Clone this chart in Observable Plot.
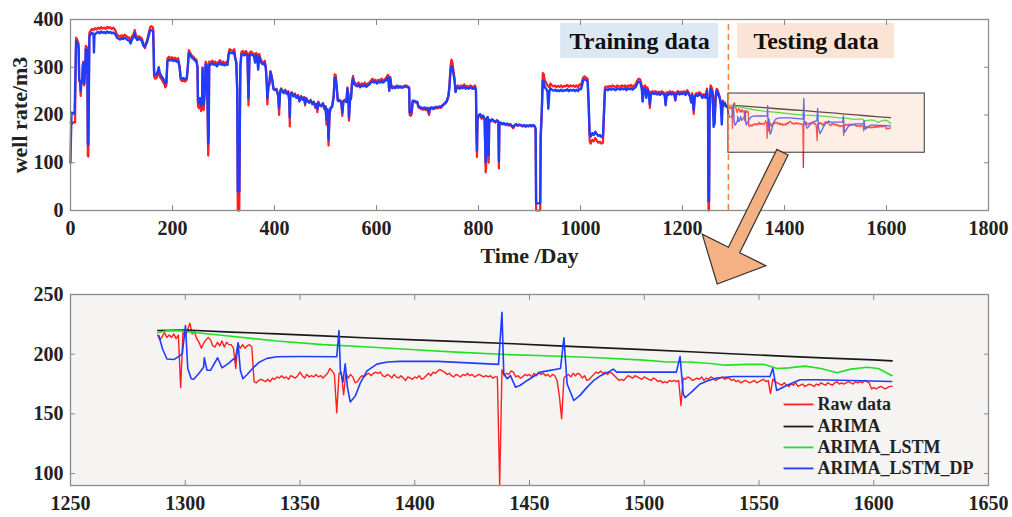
<!DOCTYPE html>
<html>
<head>
<meta charset="utf-8">
<script src="https://cdn.jsdelivr.net/npm/d3@7"></script>
<script src="https://cdn.jsdelivr.net/npm/@observablehq/plot@0.6"></script>
<style>
  body { margin: 0; background: #fff; }
  #wrap { position: relative; width: 1012px; height: 517px; overflow: hidden; }
  #top, #bottom { position: absolute; left: 0; }
  #top { top: 0; }
  #bottom { top: 280px; }
  #arrow { position: absolute; left: 0; top: 0; pointer-events: none; }
</style>
</head>
<body>
<div id="wrap">
  <div id="top"></div>
  <div id="bottom"></div>
  <svg id="arrow" width="1012" height="517"></svg>
</div>
<script>
// ---------------- DATA ----------------
// Training period: raw well rate (red) and fitted (blue), [day, value]
const rawTrain = [[0,184],[3,182],[6,185],[9,184],[10,300],[11,362],[13,358],[15,352],[16,350],[17,272],[19,266],[20,240],[21,264],[23,268],[24,305],[25,312],[26,265],[27,262],[29,300],[30,345],[32,342],[33,338],[34,115],[35,113],[36,250],[37,372],[39,376],[42,380],[45,378],[48,382],[51,379],[54,383],[57,380],[60,384],[63,381],[66,383],[69,380],[72,385],[75,382],[78,384],[81,380],[84,383],[87,379],[89,375],[91,368],[94,366],[97,364],[100,367],[103,365],[106,368],[109,366],[112,363],[115,362],[118,352],[120,364],[123,368],[126,378],[128,368],[131,362],[134,365],[137,363],[140,360],[143,348],[146,340],[148,352],[150,356],[153,370],[156,383],[158,386],[160,385],[162,383],[163,340],[164,280],[166,276],[169,278],[171,285],[173,296],[175,280],[178,276],[181,270],[184,265],[186,258],[188,262],[190,318],[193,322],[196,319],[199,321],[202,318],[205,320],[208,317],[211,319],[214,300],[216,274],[219,271],[222,273],[225,270],[228,274],[230,300],[232,336],[235,330],[238,324],[241,322],[244,318],[247,316],[249,300],[250,218],[252,214],[254,225],[256,208],[258,222],[259,300],[260,230],[261,210],[263,240],[265,312],[267,308],[269,200],[270,115],[271,150],[272,312],[275,310],[278,314],[281,309],[284,312],[287,306],[290,311],[293,315],[296,309],[299,312],[302,308],[305,311],[308,310],[310,330],[312,338],[315,336],[318,334],[321,338],[323,320],[325,312],[327,250],[328,0],[331,0],[332,160],[333,300],[335,332],[338,334],[341,330],[344,334],[347,328],[349,220],[351,330],[354,333],[357,330],[360,328],[362,312],[364,330],[366,326],[368,305],[370,328],[372,320],[375,312],[378,310],[381,314],[383,300],[385,262],[386,222],[388,258],[390,264],[392,292],[394,284],[396,272],[398,256],[401,254],[404,255],[407,240],[409,200],[411,250],[413,256],[415,252],[418,248],[421,253],[424,246],[427,250],[429,226],[430,176],[431,244],[434,248],[437,240],[440,245],[443,236],[446,242],[449,228],[452,240],[455,233],[458,238],[460,220],[462,236],[465,230],[468,226],[471,232],[474,222],[477,228],[480,215],[483,224],[484,206],[486,228],[489,220],[492,218],[495,225],[498,212],[500,218],[502,180],[504,210],[506,136],[508,200],[510,215],[513,218],[516,240],[518,285],[520,284],[522,260],[524,232],[526,230],[528,232],[531,228],[533,198],[535,230],[538,232],[541,228],[543,258],[545,240],[546,188],[548,232],[550,236],[552,270],[554,282],[556,270],[559,266],[562,264],[565,268],[568,262],[571,266],[574,264],[577,268],[580,263],[583,266],[586,268],[589,272],[592,276],[595,272],[598,274],[601,270],[604,274],[607,272],[610,276],[613,272],[616,275],[619,278],[621,282],[623,284],[625,250],[627,280],[629,262],[631,258],[634,260],[637,258],[640,262],[643,259],[646,261],[649,259],[652,260],[655,261],[658,262],[661,260],[664,258],[665,200],[667,198],[669,202],[671,228],[674,228],[677,226],[680,226],[682,216],[685,214],[688,212],[691,211],[694,213],[697,210],[700,212],[703,200],[705,212],[708,214],[711,212],[714,213],[717,215],[720,214],[723,216],[726,215],[729,218],[732,222],[735,224],[738,228],[741,240],[743,262],[745,300],[747,316],[749,310],[751,292],[753,278],[755,250],[757,260],[760,262],[763,258],[766,262],[769,260],[772,264],[775,259],[778,261],[781,258],[784,262],[787,260],[790,258],[793,262],[795,255],[796,160],[797,112],[798,190],[800,196],[803,200],[806,192],[809,196],[812,188],[814,80],[815,90],[816,190],[818,195],[820,100],[821,188],[824,186],[827,190],[830,186],[833,184],[836,188],[839,186],[840,88],[841,182],[844,183],[847,180],[850,182],[853,179],[856,181],[859,178],[862,180],[865,176],[868,172],[871,178],[874,180],[877,177],[880,179],[883,178],[886,176],[889,178],[892,175],[895,177],[898,176],[901,178],[904,176],[907,178],[910,176],[912,170],[913,0],[921,0],[922,150],[924,200],[926,288],[928,286],[930,272],[932,270],[935,262],[937,260],[939,258],[941,266],[944,262],[947,260],[950,262],[953,258],[956,261],[959,259],[962,262],[965,258],[968,261],[971,260],[974,263],[977,259],[980,262],[983,260],[986,262],[989,259],[992,262],[995,258],[998,264],[1001,262],[1003,270],[1005,278],[1008,281],[1011,278],[1014,276],[1016,220],[1018,145],[1020,140],[1023,148],[1026,145],[1029,152],[1032,146],[1035,142],[1038,144],[1041,140],[1044,142],[1046,200],[1048,258],[1051,260],[1054,258],[1057,261],[1060,259],[1063,262],[1066,260],[1069,258],[1072,262],[1075,260],[1078,259],[1081,262],[1084,260],[1087,262],[1090,258],[1093,262],[1096,260],[1099,263],[1102,259],[1105,262],[1108,264],[1111,272],[1114,276],[1117,275],[1120,262],[1122,230],[1124,260],[1127,262],[1129,240],[1131,258],[1134,250],[1136,215],[1138,248],[1141,250],[1144,248],[1147,250],[1150,247],[1153,249],[1156,246],[1159,250],[1162,248],[1165,245],[1167,220],[1169,248],[1172,246],[1175,250],[1178,247],[1181,249],[1184,246],[1186,230],[1188,248],[1191,250],[1194,247],[1197,249],[1200,248],[1203,250],[1206,246],[1209,252],[1212,248],[1215,240],[1217,226],[1219,246],[1222,202],[1224,240],[1227,246],[1230,244],[1233,248],[1236,245],[1239,240],[1242,244],[1245,238],[1248,255],[1250,230],[1251,0],[1252,0],[1253,200],[1255,262],[1257,258],[1259,250],[1261,230],[1263,180],[1265,240],[1267,255],[1269,252],[1271,245],[1273,238],[1275,225],[1277,205],[1279,230],[1281,222],[1283,226],[1285,220],[1287,218]];

const fitTrain = [[0,100],[1,160],[2,205],[5,204],[8,202],[10,300],[11,355],[13,352],[15,345],[16,340],[17,275],[19,270],[20,250],[21,268],[23,272],[24,300],[25,308],[26,270],[27,266],[29,300],[30,338],[32,336],[33,330],[34,140],[35,138],[36,250],[37,365],[39,368],[42,372],[45,370],[46,331],[47,368],[51,372],[54,374],[57,371],[60,375],[63,372],[66,374],[69,371],[72,375],[75,372],[78,374],[81,371],[84,373],[87,370],[89,367],[91,362],[94,360],[97,358],[100,361],[103,359],[106,362],[109,360],[112,357],[115,356],[118,350],[120,357],[123,362],[126,372],[128,362],[131,357],[134,360],[137,358],[140,355],[143,345],[146,342],[148,348],[150,352],[153,365],[156,376],[158,378],[160,377],[162,375],[163,340],[164,285],[166,283],[169,286],[171,292],[173,300],[175,288],[178,282],[181,277],[184,272],[186,266],[188,268],[190,312],[193,316],[196,314],[199,316],[202,313],[205,315],[208,312],[211,314],[214,300],[216,278],[219,276],[222,277],[225,275],[228,278],[230,300],[232,330],[235,326],[238,320],[241,318],[244,314],[247,312],[249,300],[250,228],[252,225],[254,235],[256,220],[258,232],[259,298],[260,236],[261,222],[263,245],[265,306],[267,304],[269,210],[270,140],[271,170],[272,306],[275,305],[278,309],[281,305],[284,307],[287,302],[290,306],[293,310],[296,305],[299,307],[302,304],[305,306],[308,305],[310,325],[312,332],[315,330],[318,329],[321,332],[323,318],[325,310],[327,250],[328,40],[331,40],[332,170],[333,300],[335,326],[338,328],[341,325],[344,328],[347,324],[349,235],[351,325],[354,327],[357,325],[360,323],[362,310],[364,325],[366,321],[368,295],[370,322],[372,315],[375,308],[378,306],[381,309],[383,298],[385,265],[386,235],[388,260],[390,266],[392,290],[394,282],[396,270],[398,254],[401,252],[404,253],[407,242],[409,215],[411,248],[413,254],[415,250],[418,246],[421,251],[424,244],[427,248],[429,230],[430,195],[431,242],[434,246],[437,239],[440,243],[443,236],[446,240],[449,230],[452,238],[455,232],[458,236],[460,224],[462,234],[465,229],[468,226],[471,230],[474,224],[477,227],[480,218],[483,223],[484,212],[486,226],[489,220],[492,219],[495,224],[498,214],[500,218],[502,190],[504,212],[506,148],[508,205],[510,214],[513,217],[516,238],[518,278],[520,277],[522,258],[524,230],[526,229],[528,230],[531,226],[533,205],[535,228],[538,230],[541,227],[543,255],[545,240],[546,195],[548,230],[550,234],[552,265],[554,276],[556,265],[559,262],[562,260],[565,263],[568,258],[571,262],[574,260],[577,263],[580,259],[583,262],[586,264],[589,268],[592,271],[595,268],[598,270],[601,266],[604,270],[607,268],[610,271],[613,268],[616,271],[619,273],[621,277],[623,279],[625,252],[627,276],[629,260],[631,256],[634,258],[637,256],[640,260],[643,257],[646,259],[649,257],[652,258],[655,259],[658,260],[661,258],[664,256],[665,206],[667,204],[669,208],[671,230],[674,230],[677,228],[680,228],[682,219],[685,217],[688,215],[691,214],[694,216],[697,213],[700,215],[703,205],[705,215],[708,216],[711,214],[714,216],[717,217],[720,216],[723,218],[726,217],[729,220],[732,223],[735,226],[738,230],[741,240],[743,258],[745,290],[747,302],[749,298],[751,285],[753,272],[755,248],[757,256],[760,258],[763,255],[766,258],[769,256],[772,260],[775,255],[778,257],[781,255],[784,258],[787,256],[790,255],[793,258],[795,252],[796,170],[797,125],[798,195],[800,199],[803,202],[806,196],[809,199],[812,192],[814,101],[815,110],[816,192],[818,196],[820,115],[821,190],[824,188],[827,191],[830,188],[833,186],[836,189],[839,187],[840,103],[841,184],[844,184],[847,181],[850,183],[853,180],[856,182],[859,179],[862,181],[865,178],[868,175],[871,179],[874,181],[877,178],[880,180],[883,179],[886,177],[889,179],[892,177],[895,178],[898,177],[901,179],[904,177],[907,179],[910,177],[912,172],[913,15],[921,15],[922,160],[924,205],[926,272],[928,270],[930,258],[932,256],[935,250],[937,213],[939,250],[941,256],[944,253],[947,251],[950,253],[953,250],[956,252],[959,250],[962,253],[965,250],[968,252],[971,251],[974,254],[977,250],[980,253],[983,251],[986,253],[989,250],[992,253],[995,250],[998,255],[1001,254],[1003,262],[1005,272],[1008,275],[1011,273],[1014,270],[1016,225],[1018,158],[1020,155],[1023,162],[1026,158],[1029,165],[1032,160],[1035,156],[1038,158],[1041,154],[1044,156],[1046,205],[1048,252],[1051,254],[1054,252],[1057,255],[1060,253],[1063,255],[1066,254],[1069,252],[1072,256],[1075,254],[1078,253],[1081,256],[1084,254],[1087,256],[1090,252],[1093,256],[1096,254],[1099,256],[1102,253],[1105,256],[1108,258],[1111,266],[1114,270],[1117,269],[1120,256],[1122,228],[1124,254],[1127,256],[1129,236],[1131,252],[1134,246],[1136,222],[1138,244],[1141,246],[1144,244],[1147,246],[1150,243],[1153,245],[1156,242],[1159,246],[1162,244],[1165,241],[1167,222],[1169,244],[1172,242],[1175,246],[1178,243],[1181,245],[1184,242],[1186,232],[1188,244],[1191,246],[1194,243],[1197,245],[1200,244],[1203,246],[1206,242],[1209,248],[1212,244],[1215,238],[1217,228],[1219,242],[1222,210],[1224,238],[1227,242],[1230,240],[1233,244],[1236,241],[1239,236],[1242,240],[1245,236],[1248,250],[1250,230],[1251,20],[1252,20],[1253,205],[1255,255],[1257,252],[1259,245],[1261,175],[1263,190],[1265,235],[1267,250],[1269,248],[1271,240],[1273,235],[1275,222],[1277,180],[1279,228],[1281,220],[1283,224],[1285,218],[1287,217]];

// Testing period: raw data, one value per day starting at day 1288
const testStartDay = 1288;
const rawTest = [
216,212,215,218,214,216,214,217,213,216,
172,218,215,220,226,217,219,213,210,205,
209,212,214,212,207,206,210,207,211,206,
210,208,208,205,188,209,205,208,205,207,
208,206,177,176,178,179,178,177,179,177,
180,179,181,180,182,180,181,179,182,181,
180,182,185,182,180,183,181,182,181,183,
181,182,180,182,184,188,186,183,151,184,
185,166,184,180,183,181,176,177,180,182,
181,183,184,182,184,185,184,185,182,181,
183,182,180,183,181,180,182,180,178,181,
180,179,181,180,182,179,180,182,184,182,
185,184,186,187,186,185,183,184,182,181,
183,182,181,183,182,184,182,183,181,182,
183,182,181,182,181,182,180,181,181,90,
187,182,184,183,186,185,181,182,180,181,
183,182,183,181,184,182,185,183,184,182,
183,181,183,182,178,165,146,180,182,183,
181,184,182,184,183,180,182,178,179,181,
183,185,184,186,184,185,183,185,184,182,
180,178,179,178,180,182,181,180,182,181,
180,179,181,180,179,178,180,179,177,178,
176,177,176,178,177,178,177,178,157,180,
179,181,180,178,179,180,179,181,178,180,
179,181,180,178,179,180,181,179,180,180,
178,179,177,178,176,177,178,177,176,177,
178,176,177,178,179,177,178,167,179,177,
176,175,174,176,174,173,175,174,176,173,
174,175,173,174,175,174,173,175,174,176,
175,174,176,175,174,176,177,175,176,175,
176,177,176,175,177,176,177,176,178,177,
176,171,172,171,172,173,172,171,172,173,
173];

// Model forecasts in the testing period, [day, value]
const arimaForecast = [[1288,219.8],[1300,220.2],[1320,218.5],[1340,217],[1360,215.3],[1380,213.6],[1400,212],[1420,210.5],[1440,209],[1460,207.2],[1480,205.5],[1500,203.8],[1520,202],[1540,200.2],[1560,198.4],[1580,196.7],[1600,195.2],[1608,194.4]];
const arimaLstmForecast = [[1288,218],[1292,219.5],[1298,219.5],[1305,218],[1320,215],[1340,211],[1360,208],[1380,206],[1400,203.7],[1420,201.5],[1440,199.7],[1460,198.5],[1480,197],[1500,195],[1510,193.5],[1520,193.5],[1530,192],[1535,190.8],[1545,191.5],[1552,191.5],[1558,188],[1563,188.5],[1570,190],[1577,188],[1584,184.5],[1590,187.5],[1597,189],[1602,188],[1608,182]];
const arimaLstmDpForecast = [[1288.5,215.7],[1290,205],[1292,196],[1295,195.5],[1298.7,200],[1300.1,224],[1301.1,188],[1302.6,179.5],[1303.7,179],[1306,184],[1308,189],[1308.3,197],[1309.5,186.5],[1311,186.5],[1314.1,197],[1316,188.6],[1319,192.5],[1321,196],[1321.8,195],[1323,209.5],[1324,186.5],[1325.1,179.4],[1327,183],[1329.8,189],[1332,193],[1335.6,196.5],[1340,197.8],[1350,198],[1366,197.8],[1367,219.8],[1367.6,186],[1368.7,176.6],[1369.7,192],[1370.7,172],[1371.9,160],[1374.1,165],[1376.3,176],[1379.2,186],[1383.5,191.7],[1388,193.5],[1393.7,194],[1410,194],[1436.5,191.5],[1438,235],[1438.8,183.6],[1440.3,179.4],[1441.7,182],[1443.9,172.4],[1446,174],[1449,178],[1454.8,185],[1463.5,188],[1465,213.7],[1466.4,175],[1469.3,161.2],[1472,165.5],[1475.1,172.4],[1478,178],[1481,182],[1485.3,186],[1486.5,187.5],[1488,185],[1500,185],[1514,185],[1515.6,198],[1517,166.8],[1517.8,163.5],[1521,169],[1524.3,175],[1528,178],[1531.6,180],[1538.8,181.3],[1554.8,181.3],[1556,188.3],[1557.7,169.6],[1562,173.8],[1567.9,178.6],[1575.1,178.6],[1590,178],[1607.8,177.1]];

// Axis ticks
const topXTicks = [0,200,400,600,800,1000,1200,1400,1600,1800];
const topYTicks = [0,100,200,300,400];
const bottomXTicks = [1250,1300,1350,1400,1450,1500,1550,1600,1650];
const bottomYTicks = [100,150,200,250];

// Annotations
const splitDay = 1290;
const periodLabels = ["Training data", "Testing data"];
const periodBoxes = [{x1: 961, x2: 1271, y1: 318, y2: 392}, {x1: 1308, x2: 1616, y1: 318, y2: 392}];
const periodFills = ["#dce8f4", "#fbe4d5"];
const zoomBox = {x1: 1290, x2: 1675, y1: 121, y2: 245};
const seriesNames = ["Raw data", "ARIMA", "ARIMA_LSTM", "ARIMA_LSTM_DP"];
const seriesColors = ["#ff1f1f", "#1a1a1a", "#22e022", "#1f3cff"];

// ---------------- DRAWING ----------------
const FONT = "'Liberation Serif', 'Times New Roman', serif";
const rawTestPts = rawTest.map((v, i) => [testStartDay + i, v]);
const [RED, BLACK, GREEN, BLUE] = seriesColors;
const plain = d => String(d);

const styleObj = {fontFamily: FONT, fontWeight: "bold", fontSize: "20px", color: "#222", background: "transparent", overflow: "visible"};

const topPlot = Plot.plot({
  width: 1012, height: 280,
  marginLeft: 70, marginRight: 24, marginTop: 19, marginBottom: 70,
  style: styleObj,
  x: {domain: [0, 1800]},
  y: {domain: [0, 400]},
  marks: [
    Plot.line(rawTrain, {stroke: RED, strokeWidth: 2.2}),
    Plot.line(fitTrain, {stroke: BLUE, strokeWidth: 2.4}),
    Plot.line(rawTestPts, {stroke: RED, strokeWidth: 1.3}),
    Plot.line(arimaForecast, {stroke: BLACK, strokeWidth: 1.3}),
    Plot.line(arimaLstmForecast, {stroke: GREEN, strokeWidth: 1.3}),
    Plot.line(arimaLstmDpForecast, {stroke: BLUE, strokeWidth: 1.3}),
    Plot.rect([zoomBox], {x1: "x1", x2: "x2", y1: "y1", y2: "y2", fill: "#f8cbad", fillOpacity: 0.3, stroke: "#333", strokeWidth: 1}),
    Plot.ruleX([splitDay], {y1: 0, y2: 400, stroke: "#f0813a", strokeWidth: 1.5, strokeDasharray: "6,4"}),
    Plot.rect(periodBoxes, {x1: "x1", x2: "x2", y1: "y1", y2: "y2", fill: (d, i) => periodFills[i]}),
    Plot.text(periodBoxes, {x: d => (d.x1 + d.x2) / 2, y: d => (d.y1 + d.y2) / 2, text: (d, i) => periodLabels[i], fontSize: 24, fontWeight: "bold", fill: "#111"}),
    Plot.axisX({ticks: topXTicks, tickFormat: plain, anchor: "bottom", tickSize: -5, tickPadding: 15, stroke: "#888", label: null, fill: "#222"}),
    Plot.axisX({ticks: topXTicks, anchor: "top", tickSize: -5, tickFormat: () => "", stroke: "#888", label: null}),
    Plot.axisY({ticks: topYTicks, tickFormat: plain, anchor: "left", tickSize: -5, tickPadding: 12, stroke: "#888", label: null, fill: "#222"}),
    Plot.axisY({ticks: topYTicks, anchor: "right", tickSize: -5, tickFormat: () => "", stroke: "#888", label: null}),
    Plot.frame({stroke: "#8c8c8c", strokeWidth: 1.3}),
    Plot.text(["well rate/m3"], {frameAnchor: "left", textAnchor: "middle", lineAnchor: "middle", rotate: -90, dx: -51, fontSize: 22, fontWeight: "bold", fill: "#222"}),
    Plot.text(["Time /Day"], {frameAnchor: "bottom", dy: 52, fontSize: 22, fontWeight: "bold", fill: "#222"})
  ]
});
document.getElementById("top").appendChild(topPlot);

const legendRows = seriesNames.map((name, i) => ({name, color: seriesColors[i], y: [157.9, 139.4, 121.9, 104.3][i]}));

const bottomPlot = Plot.plot({
  width: 1012, height: 237,
  marginLeft: 70, marginRight: 24, marginTop: 14, marginBottom: 32,
  style: styleObj,
  x: {domain: [1250, 1650]},
  y: {domain: [90, 250]},
  marks: [
    Plot.frame({fill: "#f6f4f3", stroke: null}),
    Plot.line(rawTestPts, {stroke: RED, strokeWidth: 1.4}),
    Plot.line(arimaForecast, {stroke: BLACK, strokeWidth: 1.6}),
    Plot.line(arimaLstmForecast, {stroke: GREEN, strokeWidth: 1.6}),
    Plot.line(arimaLstmDpForecast, {stroke: BLUE, strokeWidth: 1.6}),
    Plot.link(legendRows, {x1: 1560.7, x2: 1573.7, y1: "y", y2: "y", stroke: "color", strokeWidth: 1.8}),
    Plot.text(legendRows, {x: 1575.5, y: "y", text: "name", textAnchor: "start", fontSize: 18, fontWeight: "bold", fill: "#222"}),
    Plot.axisX({ticks: bottomXTicks, tickFormat: plain, anchor: "bottom", tickSize: -5, tickPadding: 15, stroke: "#888", label: null, fill: "#222"}),
    Plot.axisX({ticks: bottomXTicks, anchor: "top", tickSize: -5, tickFormat: () => "", stroke: "#888", label: null}),
    Plot.axisY({ticks: bottomYTicks, tickFormat: plain, anchor: "left", tickSize: -5, tickPadding: 12, stroke: "#888", label: null, fill: "#222"}),
    Plot.axisY({ticks: bottomYTicks, anchor: "right", tickSize: -5, tickFormat: () => "", stroke: "#888", label: null}),
    Plot.frame({stroke: "#8c8c8c", strokeWidth: 1.3})
  ]
});
document.getElementById("bottom").appendChild(bottomPlot);

// Arrow from the zoom box down to the detail panel, positioned through the top chart's scales
const arrowFrom = {day: 1397, value: 121};
const arrowTo = {day: 1269, value: -155};
(function drawArrow() {
  const sx = topPlot.scale("x"), sy = topPlot.scale("y");
  const S = [sx.apply(arrowFrom.day), sy.apply(arrowFrom.value)];
  const T = [sx.apply(arrowTo.day), sy.apply(arrowTo.value)];
  const dx = T[0] - S[0], dy = T[1] - S[1];
  const L = Math.hypot(dx, dy);
  const u = [dx / L, dy / L], n = [-u[1], u[0]];
  const hw = 6.3, hh = 35.5, hl = 38;
  const B = [T[0] - u[0] * hl, T[1] - u[1] * hl];
  const p = (P, k) => [P[0] + n[0] * k, P[1] + n[1] * k];
  const pts = [p(S, hw), p(B, hw), p(B, hh), T, p(B, -hh), p(B, -hw), p(S, -hw)];
  d3.select("#arrow").append("polygon")
    .attr("points", pts.map(q => q.join(",")).join(" "))
    .attr("fill", "#f4b183")
    .attr("stroke", "#333")
    .attr("stroke-width", 1.2)
    .attr("stroke-linejoin", "miter");
})();
</script>
</body>
</html>
